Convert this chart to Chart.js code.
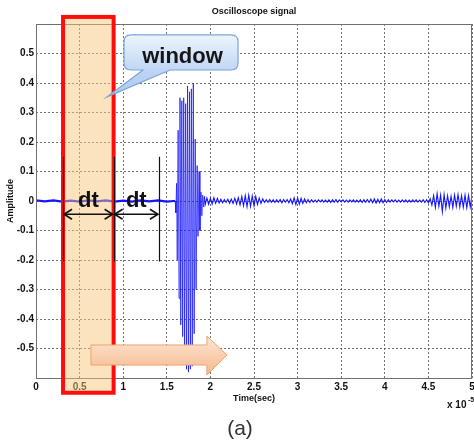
<!DOCTYPE html>
<html><head><meta charset="utf-8">
<script src="https://cdn.jsdelivr.net/npm/chart.js@4"></script>
<style>html,body{margin:0;padding:0;background:#fff}canvas{display:block}</style>
</head><body>
<canvas id="c" width="474" height="446"></canvas>
<script>
// ---- data (time in units of 1e-5 s, amplitude) ----
const baseTime = [0,0.1,0.2,0.3,0.4,0.5,0.6,0.7,0.8,0.9,1.0,1.1,1.2,1.3,1.4,1.5,1.58];
const baseAmp  = [0.002,-0.001,0.002,-0.002,0.001,-0.002,0.002,-0.001,0.002,-0.002,0.001,-0.002,0.002,-0.001,0.002,-0.002,0.000];

const burstTime = [1.596,1.604,1.612,1.620,1.630,1.640,1.651,1.660,1.672,1.682,1.694,1.704,1.716,1.726,1.738,1.748,1.760,1.770,1.782,1.792,1.804,1.814,1.826,1.836,1.848,1.858,1.870,1.880,1.892,1.902,1.912,1.922,1.932];
const burstAmp  = [0.000,-0.040,0.060,-0.200,0.240,-0.330,0.350,-0.420,0.340,-0.460,0.350,-0.500,0.330,-0.570,0.390,-0.580,0.370,-0.570,0.380,-0.560,0.400,-0.450,0.210,-0.300,0.120,-0.120,0.100,-0.100,0.030,-0.050,0.020,-0.020,0.015];

const tailTime = [
 1.94,1.96,1.98,2.00,2.02,2.04,2.06,2.08,2.10,2.12,
 2.14,2.16,2.18,2.20,2.22,2.24,2.26,2.28,2.30,2.32,
 2.34,2.36,2.38,2.40,2.42,2.44,2.46,2.48,2.50,2.52,
 2.54,2.56,2.58,2.60,2.62,2.64,2.66,2.68,2.70,2.72,
 2.74,2.76,2.78,2.80,2.82,2.84,2.86,2.88,2.90,2.92,
 2.94,2.96,2.98,3.00,3.02,3.04,3.06,3.08,3.10,3.12,
 3.14,3.16,3.18,3.20,3.22,3.24,3.26,3.28,3.30,3.32,
 3.34,3.36,3.38,3.40,3.42,3.44,3.46,3.48,3.50,3.52,
 3.54,3.56,3.58,3.60,3.62,3.64,3.66,3.68,3.70,3.72,
 3.74,3.76,3.78,3.80,3.82,3.84,3.86,3.88,3.90,3.92,
 3.94,3.96,3.98,4.00,4.02,4.04,4.06,4.08,4.10,4.12,
 4.14,4.16,4.18,4.20,4.22,4.24,4.26,4.28,4.30,4.32,
 4.34,4.36,4.38,4.40,4.42,4.44,4.46,4.48,4.50,4.52,
 4.54,4.56,4.58,4.60,4.62,4.64,4.66,4.68,4.70,4.72,
 4.74,4.76,4.78,4.80,4.82,4.84,4.86,4.88,4.90,4.92,
 4.94,4.96,4.98,5.00];
const tailAmp = [
 -0.012,0.010,-0.011,0.009,-0.010,0.011,-0.008,0.009,-0.007,0.006,
 -0.006,0.005,-0.005,0.006,-0.007,0.006,-0.008,0.009,-0.010,0.011,
 -0.013,0.015,-0.016,0.018,-0.019,0.020,-0.018,0.017,-0.016,0.015,
 -0.012,0.010,-0.008,0.007,-0.005,0.004,-0.004,0.005,-0.004,0.004,
 -0.005,0.004,-0.004,0.005,-0.006,0.005,-0.004,0.005,-0.006,0.007,
 -0.009,0.011,-0.012,0.010,-0.011,0.009,-0.008,0.007,-0.006,0.005,
 -0.005,0.004,-0.004,0.003,-0.004,0.004,-0.003,0.004,-0.004,0.003,
 -0.004,0.004,-0.005,0.004,-0.004,0.005,-0.004,0.004,-0.003,0.004,
 -0.004,0.003,-0.004,0.004,-0.003,0.004,-0.004,0.003,-0.004,0.004,
 -0.005,0.004,-0.004,0.005,-0.005,0.006,-0.006,0.007,-0.007,0.006,
 -0.006,0.007,-0.006,0.005,-0.005,0.004,-0.004,0.004,-0.003,0.004,
 -0.004,0.003,-0.004,0.004,-0.003,0.004,-0.004,0.003,-0.004,0.004,
 -0.003,0.004,-0.004,0.003,-0.004,0.004,-0.005,0.004,-0.006,0.008,
 -0.014,0.018,-0.022,0.025,-0.018,0.020,-0.036,0.022,-0.024,0.018,
 -0.020,0.016,-0.022,0.020,-0.018,0.022,-0.020,0.018,-0.021,0.020,
 -0.022,0.019,-0.020,0.018];

const xTickValues = [0,0.5,1,1.5,2,2.5,3,3.5,4,4.5,5];
const xTickLabels = ['0','0.5','1','1.5','2','2.5','3','3.5','4','4.5','5'];
const yTickValues = [-0.5,-0.4,-0.3,-0.2,-0.1,0,0.1,0.2,0.3,0.4,0.5];
const yTickLabels = ['-0.5','-0.4','-0.3','-0.2','-0.1','0','0.1','0.2','0.3','0.4','0.5'];

// annotation positions (data units)
const windowStart = 0.31, windowEnd = 0.89, windowTop = 0.624, windowBottom = -0.65;
const markerTimes = [0.31, 0.89, 1.41];
const markerTop = 0.15, markerBottom = -0.205, dtLevel = -0.045;
const dtLabelTimes = [0.60, 1.15];
const dtLabelLevel = -0.022;
const calloutBox = {x0:1.009, x1:2.317, y0:0.563, y1:0.444};
const calloutTail = {xa:1.227, xb:1.537, tipX:0.814, tipY:0.353};
const calloutText = {x:1.68, y:0.468};
const moveArrow = {x0:0.63, xh:1.96, tip:2.19, bodyTop:-0.488, bodyBottom:-0.556, headTop:-0.458, headBottom:-0.590, mid:-0.522};

const signal = [];
baseTime.forEach((t,i)=>signal.push({x:t,y:baseAmp[i]}));
burstTime.forEach((t,i)=>signal.push({x:t,y:burstAmp[i]}));
tailTime.forEach((t,i)=>signal.push({x:t,y:tailAmp[i]}));

function lbl(vals, labels, v){
  const i = vals.findIndex(t=>Math.abs(t-v)<1e-6);
  return i>=0 ? labels[i] : '';
}

const FONT = "'Liberation Sans', Arial, sans-serif";

const overlay = {
  id:'overlay',
  afterDatasetsDraw(chart){
    const {ctx, chartArea:a, scales:{x,y}} = chart;
    const X = v=>x.getPixelForValue(v), Y = v=>y.getPixelForValue(v);
    ctx.save();
    // frame
    ctx.strokeStyle='#707070'; ctx.lineWidth=1; ctx.setLineDash([]);
    ctx.strokeRect(Math.round(a.left)+0.5, Math.round(a.top)+0.5, Math.round(a.right-a.left)-1, Math.round(a.bottom-a.top));

    // window
    const wx0=X(windowStart), wx1=X(windowEnd), wy0=Y(windowTop), wy1=Y(windowBottom);
    ctx.fillStyle='rgba(246,196,120,0.48)';
    ctx.fillRect(wx0, wy0, wx1-wx0, wy1-wy0);

    // red window border
    ctx.strokeStyle='#ff0d0d'; ctx.lineWidth=4;
    ctx.strokeRect(wx0, wy0, wx1-wx0, wy1-wy0);

    // markers
    ctx.strokeStyle='#111'; ctx.lineWidth=1.2;
    markerTimes.forEach(t=>{
      const px=Math.round(X(t))+0.5;
      ctx.beginPath(); ctx.moveTo(px,Y(markerTop)); ctx.lineTo(px,Y(markerBottom)); ctx.stroke();
    });
    // dt arrows
    ctx.lineWidth=1.6;
    const ay=Y(dtLevel);
    for(let i=0;i<markerTimes.length-1;i++){
      const xa=X(markerTimes[i])+1, xb=X(markerTimes[i+1])-1;
      ctx.beginPath(); ctx.moveTo(xa,ay); ctx.lineTo(xb,ay); ctx.stroke();
      ctx.beginPath(); ctx.moveTo(xa+8,ay-5); ctx.lineTo(xa,ay); ctx.lineTo(xa+8,ay+5); ctx.stroke();
      ctx.beginPath(); ctx.moveTo(xb-8,ay-5); ctx.lineTo(xb,ay); ctx.lineTo(xb-8,ay+5); ctx.stroke();
    }

    // dt labels
    ctx.fillStyle='#111'; ctx.font='bold 22px '+FONT; ctx.textAlign='center'; ctx.textBaseline='alphabetic';
    dtLabelTimes.forEach(t=>ctx.fillText('dt', X(t), Y(dtLabelLevel)));

    // callout
    const bx0=X(calloutBox.x0), bx1=X(calloutBox.x1), by0=Y(calloutBox.y0), by1=Y(calloutBox.y1), r=7;
    const ta=X(calloutTail.xa), tb=X(calloutTail.xb), tx=X(calloutTail.tipX), ty=Y(calloutTail.tipY);
    ctx.beginPath();
    ctx.moveTo(bx0+r,by0);
    ctx.lineTo(bx1-r,by0); ctx.quadraticCurveTo(bx1,by0,bx1,by0+r);
    ctx.lineTo(bx1,by1-r); ctx.quadraticCurveTo(bx1,by1,bx1-r,by1);
    ctx.lineTo(tb,by1); ctx.lineTo(tx,ty); ctx.lineTo(ta,by1);
    ctx.lineTo(bx0+r,by1); ctx.quadraticCurveTo(bx0,by1,bx0,by1-r);
    ctx.lineTo(bx0,by0+r); ctx.quadraticCurveTo(bx0,by0,bx0+r,by0);
    ctx.closePath();
    const g=ctx.createLinearGradient(0,by0,0,ty);
    g.addColorStop(0,'#eef4fd'); g.addColorStop(0.6,'#bdd5f4'); g.addColorStop(1,'#a9c7ef');
    ctx.fillStyle=g; ctx.fill();
    ctx.strokeStyle='#7ea4d8'; ctx.lineWidth=1.2; ctx.stroke();
    ctx.fillStyle='#151515'; ctx.font='bold 22px '+FONT; ctx.textAlign='center';
    ctx.fillText('window', X(calloutText.x), Y(calloutText.y));

    // moving arrow
    const m=moveArrow;
    ctx.beginPath();
    ctx.moveTo(X(m.x0),Y(m.bodyTop)); ctx.lineTo(X(m.xh),Y(m.bodyTop)); ctx.lineTo(X(m.xh),Y(m.headTop));
    ctx.lineTo(X(m.tip),Y(m.mid)); ctx.lineTo(X(m.xh),Y(m.headBottom)); ctx.lineTo(X(m.xh),Y(m.bodyBottom));
    ctx.lineTo(X(m.x0),Y(m.bodyBottom)); ctx.closePath();
    const g2=ctx.createLinearGradient(0,Y(m.headTop),0,Y(m.headBottom));
    g2.addColorStop(0,'#fde6d4'); g2.addColorStop(1,'#f6b88c');
    ctx.fillStyle=g2; ctx.fill();
    ctx.strokeStyle='#f0a36c'; ctx.lineWidth=1; ctx.stroke();
    ctx.restore();
  },
  afterDraw(chart){
    const {ctx, chartArea:a} = chart;
    ctx.save();
    ctx.fillStyle='#111';
    ctx.textAlign='center'; ctx.textBaseline='middle';
    ctx.font='bold 9px '+FONT;
    ctx.fillText('Oscilloscope signal', (a.left+a.right)/2, 12);
    ctx.fillText('Time(sec)', (a.left+a.right)/2, 399);
    ctx.save(); ctx.translate(11,(a.top+a.bottom)/2); ctx.rotate(-Math.PI/2);
    ctx.fillText('Amplitude',0,0); ctx.restore();
    ctx.textAlign='left'; ctx.textBaseline='alphabetic';
    ctx.font='bold 10px '+FONT;
    ctx.fillText('x 10', 447, 408);
    ctx.font='bold 7px '+FONT;
    ctx.fillText('-5', 468, 402);
    ctx.textAlign='center'; ctx.textBaseline='middle';
    ctx.fillStyle='#333';
    ctx.font='21px '+FONT;
    ctx.fillText('(a)', 240, 429);
    ctx.restore();
  }
};

new Chart(document.getElementById('c'), {
  type:'line',
  data:{datasets:[{
    data:signal,
    borderColor:'#1414ff',
    borderWidth:1.0,
    pointRadius:0,
    tension:0,
    fill:false,
    segment:{borderWidth: c => (c.p0.parsed.x < 1.585 ? 2.2 : (c.p0.parsed.x > 1.93 ? 1.1 : 0.75))}
  }]},
  options:{
    responsive:false, animation:false, devicePixelRatio:1,
    layout:{padding:{left:0,right:2,top:24,bottom:48}},
    plugins:{legend:{display:false}, tooltip:{enabled:false}, title:{display:false}},
    scales:{
      x:{type:'linear', min:0, max:5,
        grid:{color:'rgba(70,70,70,0.75)', lineWidth:1, drawTicks:false},
        border:{display:false, dash:[2,2]},
        ticks:{stepSize:0.5, autoSkip:false, maxRotation:0, padding:3, color:'#111',
          font:{family:FONT, size:10, weight:'bold'},
          callback:v=>lbl(xTickValues,xTickLabels,v)},
        afterFit:s=>{s.height=20; s.paddingLeft=0; s.paddingRight=0;}
      },
      y:{type:'linear', min:-0.6, max:0.6,
        grid:{color:'rgba(70,70,70,0.75)', lineWidth:1, drawTicks:false},
        border:{display:false, dash:[2,2]},
        ticks:{stepSize:0.1, autoSkip:false, padding:2, color:'#111',
          font:{family:FONT, size:10, weight:'bold'},
          callback:v=>lbl(yTickValues,yTickLabels,v)},
        afterFit:s=>{s.width=36; s.paddingTop=0; s.paddingBottom=0;}
      }
    }
  },
  plugins:[overlay]
});
</script></body></html>
